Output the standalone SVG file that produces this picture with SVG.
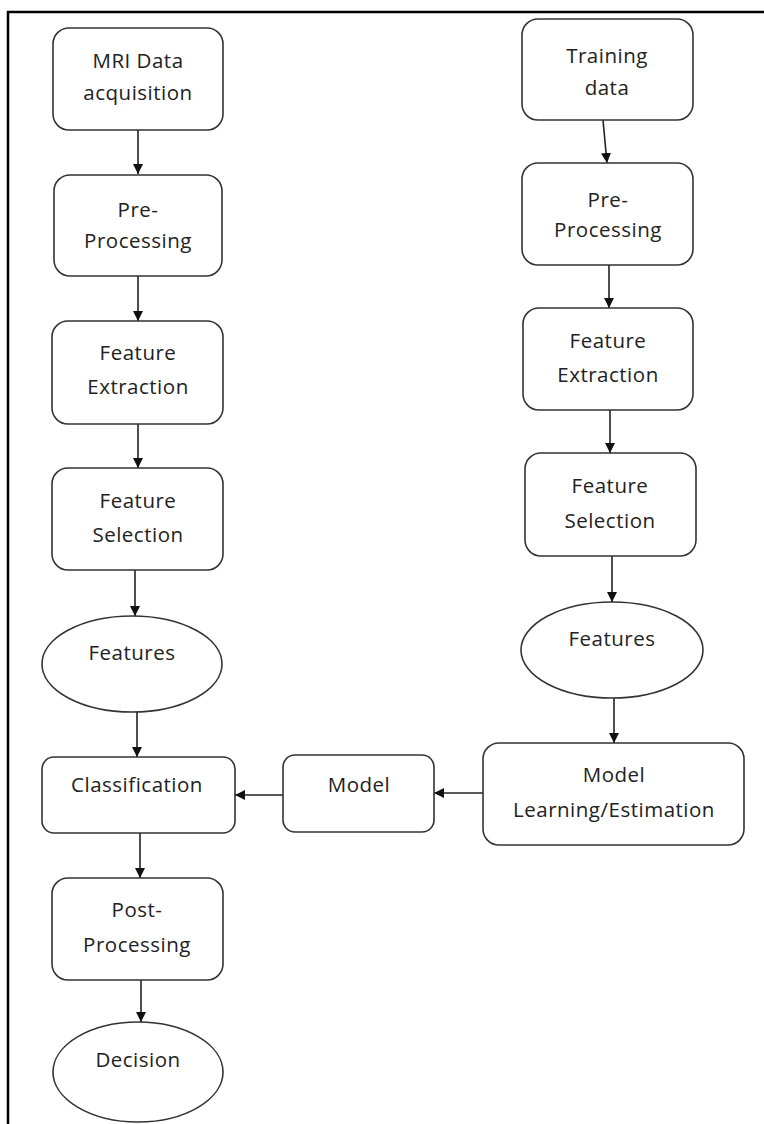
<svg xmlns="http://www.w3.org/2000/svg" width="764" height="1124" viewBox="0 0 764 1124">
<defs>
<marker id="ah" viewBox="0 0 10 10" refX="10" refY="5" markerWidth="10" markerHeight="11" markerUnits="userSpaceOnUse" orient="auto">
<path d="M0,0 L10,5 L0,10 Z" fill="#111"/>
</marker>
<style>
.box{fill:#fff;stroke:#333;stroke-width:1.6}
.t{font-family:"Open Sans","Liberation Sans",sans-serif;font-size:20.5px;letter-spacing:0.5px;fill:#222;text-anchor:middle}
.c{stroke:#222;stroke-width:1.6;fill:none;marker-end:url(#ah)}
</style>
</defs>
<rect width="764" height="1124" fill="#fff"/>
<g id="frame"><path d="M8,1124 V12 H764" fill="none" stroke="#000" stroke-width="2.5"/></g>

<g id="connectors">
<path class="c" d="M138,130 V174"/>
<path class="c" d="M138,276 V321"/>
<path class="c" d="M138,424 V468"/>
<path class="c" d="M135,570 V616"/>
<path class="c" d="M137,712 V757"/>
<path class="c" d="M140,833 V878"/>
<path class="c" d="M141,980 V1022"/>
<path class="c" d="M603,120 L607,163"/>
<path class="c" d="M609,265 V308"/>
<path class="c" d="M610,410 V453"/>
<path class="c" d="M612,556 V602"/>
<path class="c" d="M614,697 V743"/>
<path class="c" d="M483,793 H434"/>
<path class="c" d="M283,795 H235"/>
</g>

<g id="mri"><rect class="box" x="53" y="28" width="170" height="102" rx="16"/><text class="t" x="138" y="68">MRI Data</text><text class="t" x="138" y="100">acquisition</text></g>
<g id="pre1"><rect class="box" x="54" y="175" width="168" height="101" rx="16"/><text class="t" x="138" y="217">Pre-</text><text class="t" x="138" y="248">Processing</text></g>
<g id="fe1"><rect class="box" x="52" y="321" width="171" height="103" rx="16"/><text class="t" x="138" y="360">Feature</text><text class="t" x="138" y="394">Extraction</text></g>
<g id="fs1"><rect class="box" x="52" y="468" width="171" height="102" rx="16"/><text class="t" x="138" y="508">Feature</text><text class="t" x="138" y="542">Selection</text></g>
<g id="feat1"><ellipse class="box" cx="132" cy="664" rx="90" ry="48"/><text class="t" x="132" y="660">Features</text></g>
<g id="class"><rect class="box" x="42" y="757" width="193" height="76" rx="12"/><text class="t" x="137" y="792">Classification</text></g>
<g id="post"><rect class="box" x="52" y="878" width="171" height="102" rx="16"/><text class="t" x="137" y="917">Post-</text><text class="t" x="137" y="952">Processing</text></g>
<g id="decision"><ellipse class="box" cx="138" cy="1072" rx="85" ry="50"/><text class="t" x="138" y="1067">Decision</text></g>

<g id="train"><rect class="box" x="522" y="19" width="171" height="101" rx="16"/><text class="t" x="607" y="63">Training</text><text class="t" x="607" y="95">data</text></g>
<g id="pre2"><rect class="box" x="522" y="163" width="171" height="102" rx="16"/><text class="t" x="608" y="207">Pre-</text><text class="t" x="608" y="237">Processing</text></g>
<g id="fe2"><rect class="box" x="523" y="308" width="170" height="102" rx="16"/><text class="t" x="608" y="348">Feature</text><text class="t" x="608" y="382">Extraction</text></g>
<g id="fs2"><rect class="box" x="525" y="453" width="171" height="103" rx="16"/><text class="t" x="610" y="493">Feature</text><text class="t" x="610" y="528">Selection</text></g>
<g id="feat2"><ellipse class="box" cx="612" cy="650" rx="91" ry="48"/><text class="t" x="612" y="646">Features</text></g>
<g id="mle"><rect class="box" x="483" y="743" width="261" height="102" rx="16"/><text class="t" x="614" y="782">Model</text><text class="t" x="614" y="817">Learning/Estimation</text></g>
<g id="model"><rect class="box" x="283" y="755" width="151" height="77" rx="12"/><text class="t" x="359" y="792">Model</text></g>
</svg>
